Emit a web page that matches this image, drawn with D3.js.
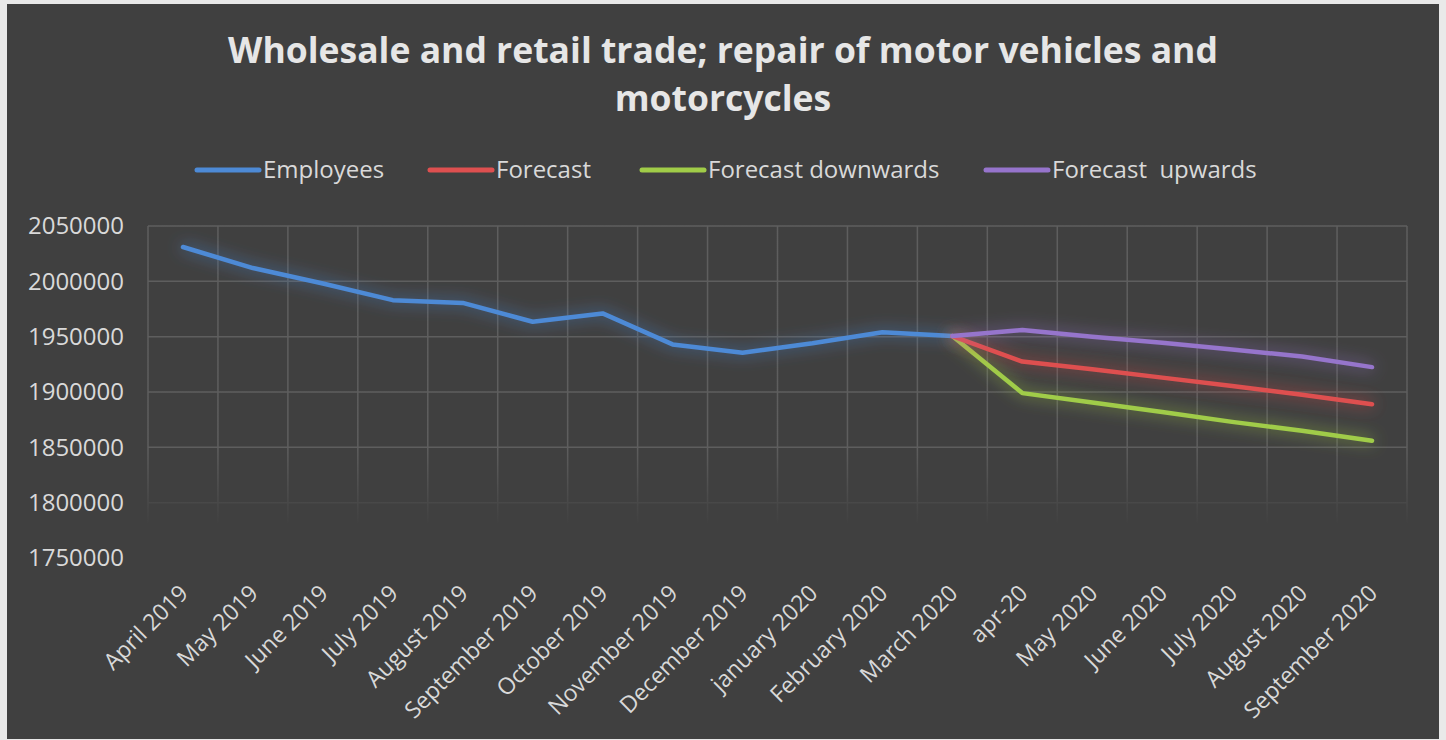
<!doctype html>
<html lang="en">
<head>
    <meta charset="UTF-8">
    <script src="https://d3js.org/d3.v7.min.js"></script>
    <title>Wholesale and retail trade</title>
    <style>
        body { margin: 0; background: #e9e9e9; }
        svg text { font-family: "Open Sans", sans-serif; }
    </style>
</head>
<body>
<div id="chart"></div>
<script>
    // months on the x axis
    var months = ["April 2019", "May 2019", "June 2019", "July 2019", "August 2019", "September 2019",
        "October 2019", "November 2019", "December 2019", "january 2020", "February 2020", "March 2020",
        "apr-20", "May 2020", "June 2020", "July 2020", "August 2020", "September 2020"];

    // values
    var employees = [2031000, 2012000, 1998000, 1983000, 1980500, 1963500, 1971000, 1943000, 1935500,
        1944000, 1954000, 1950500, null, null, null, null, null, null];
    var forecast = [null, null, null, null, null, null, null, null, null, null, null, 1950500,
        1927500, 1920500, 1913000, 1905500, 1897500, 1889000];
    var forecastDown = [null, null, null, null, null, null, null, null, null, null, null, 1950500,
        1899000, 1890500, 1882000, 1873000, 1865000, 1856000];
    var forecastUp = [null, null, null, null, null, null, null, null, null, null, null, 1950500,
        1956000, 1950000, 1944500, 1938500, 1932000, 1922500];

    var yTicks = [1750000, 1800000, 1850000, 1900000, 1950000, 2000000, 2050000];
    var seriesNames = ["Employees", "Forecast", "Forecast downwards", "Forecast  upwards"];

    var W = 1446, H = 740;
    var plot = {left: 148, right: 1407, top: 226, bottom: 558};

    var svg = d3.select("#chart").append("svg")
        .attr("width", W)
        .attr("height", H);

    // dark chart background
    svg.append("rect")
        .attr("x", 7).attr("y", 4)
        .attr("width", 1432).attr("height", 735)
        .attr("fill", "#404040");

    var defs = svg.append("defs");

    var x = d3.scaleBand()
        .domain(months)
        .range([plot.left, plot.right]);

    var y = d3.scaleLinear()
        .domain([1750000, 2050000])
        .range([plot.bottom, plot.top]);

    // gridlines fade out towards the bottom
    var grad = defs.append("linearGradient")
        .attr("id", "gridFade")
        .attr("gradientUnits", "userSpaceOnUse")
        .attr("x1", 0).attr("x2", 0)
        .attr("y1", y(2050000)).attr("y2", y(1780000));
    grad.append("stop").attr("offset", (y(1850000) - y(2050000)) / (y(1780000) - y(2050000)))
        .attr("stop-color", "#5e5e5e");
    grad.append("stop").attr("offset", 1).attr("stop-color", "#404040");

    // glow filter
    var glow = defs.append("filter")
        .attr("id", "glow")
        .attr("filterUnits", "userSpaceOnUse")
        .attr("x", 0).attr("y", 0).attr("width", W).attr("height", H);
    glow.append("feGaussianBlur").attr("in", "SourceGraphic").attr("stdDeviation", 8).attr("result", "blur");
    glow.append("feComponentTransfer").attr("in", "blur").attr("result", "soft")
        .append("feFuncA").attr("type", "linear").attr("slope", 0.8);
    var merge = glow.append("feMerge");
    merge.append("feMergeNode").attr("in", "soft");
    merge.append("feMergeNode").attr("in", "SourceGraphic");

    // horizontal gridlines
    svg.append("g")
        .selectAll("line")
        .data(yTicks.filter(function (d) { return d > 1750000; }))
        .enter()
        .append("line")
        .attr("x1", plot.left).attr("x2", plot.right)
        .attr("y1", function (d) { return y(d); })
        .attr("y2", function (d) { return y(d); })
        .attr("stroke", "url(#gridFade)")
        .attr("stroke-width", 1.5);

    // vertical gridlines at category borders
    var borders = months.map(function (m) { return x(m); }).concat([x.range()[1]]);
    svg.append("g")
        .selectAll("line")
        .data(borders)
        .enter()
        .append("line")
        .attr("x1", function (d) { return d; })
        .attr("x2", function (d) { return d; })
        .attr("y1", y(2050000)).attr("y2", y(1780000))
        .attr("stroke", "url(#gridFade)")
        .attr("stroke-width", 1.5);

    // y axis labels
    var yAxis = svg.append("g")
        .attr("transform", "translate(" + plot.left + ",0)")
        .call(d3.axisLeft(y).tickValues(yTicks).tickSize(0).tickPadding(24).tickFormat(d3.format("d")));
    yAxis.select(".domain").remove();
    yAxis.selectAll("text")
        .attr("fill", "#d9d9d9")
        .style("font-size", "24px");

    // x axis labels, rotated
    svg.append("g")
        .selectAll("text")
        .data(months)
        .enter()
        .append("text")
        .attr("transform", function (d) {
            return "translate(" + (x(d) + x.bandwidth() / 2 + 1) + "," + (plot.bottom + 31) + ") rotate(-45)";
        })
        .attr("text-anchor", "end")
        .attr("dy", "0.35em")
        .attr("fill", "#d9d9d9")
        .style("font-size", "23px")
        .text(function (d) { return d; });

    // lines
    var line = d3.line()
        .defined(function (d) { return d !== null; })
        .x(function (d, i) { return x(months[i]) + x.bandwidth() / 2; })
        .y(function (d) { return y(d); });

    var series = [
        {name: seriesNames[0], values: employees, color: "#4d8ad6"},
        {name: seriesNames[2], values: forecastDown, color: "#a0cc48"},
        {name: seriesNames[1], values: forecast, color: "#de5050"},
        {name: seriesNames[3], values: forecastUp, color: "#9674cc"}
    ];

    svg.append("g")
        .selectAll("path")
        .data(series)
        .enter()
        .append("path")
        .attr("d", function (d) { return line(d.values); })
        .attr("fill", "none")
        .attr("stroke", function (d) { return d.color; })
        .attr("stroke-width", 4.5)
        .attr("stroke-linejoin", "round")
        .attr("stroke-linecap", "round")
        .attr("filter", "url(#glow)");

    // legend
    var legendColors = {"Employees": "#4d8ad6", "Forecast": "#de5050",
        "Forecast downwards": "#a0cc48", "Forecast  upwards": "#9674cc"};
    var legendX = [197, 430, 642, 986];
    var legend = svg.append("g")
        .selectAll("g")
        .data(seriesNames)
        .enter()
        .append("g")
        .attr("transform", function (d, i) { return "translate(" + legendX[i] + ",170)"; });
    legend.append("line")
        .attr("x1", 0).attr("x2", 62)
        .attr("stroke", function (d) { return legendColors[d]; })
        .attr("stroke-width", 5)
        .attr("stroke-linecap", "round");
    legend.append("text")
        .attr("x", 66)
        .attr("dy", "0.35em")
        .attr("fill", "#d9d9d9")
        .style("font-size", "24px")
        .style("white-space", "pre")
        .text(function (d) { return d; });

    // title
    var title = svg.append("text")
        .attr("text-anchor", "middle")
        .attr("fill", "#e6e6e6")
        .style("font-size", "35.5px")
        .style("font-weight", "bold");
    title.append("tspan").attr("x", 723).attr("y", 63)
        .text("Wholesale and retail trade; repair of motor vehicles and");
    title.append("tspan").attr("x", 723).attr("y", 111)
        .text("motorcycles");
</script>
</body>
</html>
